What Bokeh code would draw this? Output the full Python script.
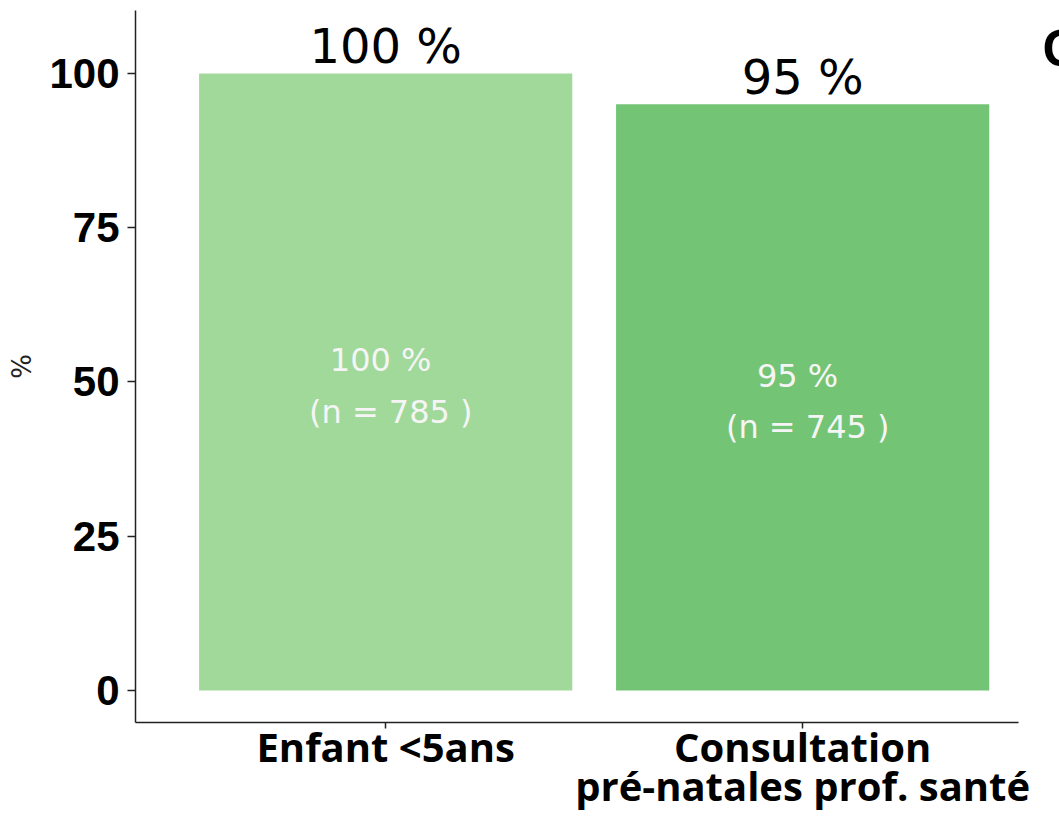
from bokeh.plotting import figure
from bokeh.models import Range1d, FixedTicker, ColumnDataSource
from bokeh.core.properties import value
from bokeh.embed import file_html
from bokeh.resources import INLINE

categories = ["Enfant <5ans", "Consultation\npré-natales prof. santé"]
percent = [100, 95]
counts = [785, 745]
colors = ["#A1D99B", "#74C476"]
yticks = [0, 25, 50, 75, 100]
panel_letter = ["C"]

NBSP = "\u00a0"
xpos = [i + 1 for i in range(len(categories))]
src = ColumnDataSource(dict(
    x=xpos,
    top=percent,
    mid=[v / 2 for v in percent],
    color=colors,
    top_label=[f"{v} %" for v in percent],
    inner_label=[f"{v} %{NBSP}\n{NBSP}(n = {n} )" for v, n in zip(percent, counts)],
))

X_START, X_AXIS_END, X_END = 0.400, 2.518, 2.616

p = figure(width=1059, height=817, output_backend="svg", toolbar_location=None,
           x_range=Range1d(X_START, X_END), y_range=Range1d(-5.2, 110.2),
           min_border_left=135, min_border_right=0, min_border_top=10, min_border_bottom=95)
p.outline_line_color = None
p.grid.visible = False
p.background_fill_color = "white"
p.border_fill_color = "white"

p.vbar(x="x", top="top", bottom=0, width=0.895, color="color", line_color=None, source=src)

p.text(x="x", y="top", text="top_label", source=src, text_align="center",
       text_baseline="alphabetic", y_offset=-27, text_color="black",
       text_font=value("DejaVu Sans"), text_font_size="48px")

p.text(x="x", y="mid", text="inner_label", source=src, text_align="center",
       text_baseline="middle", y_offset=4, text_color="#f5f5f5",
       text_font=value("DejaVu Sans"), text_font_size="32px", text_line_height=1.36)

# partially visible letter of the neighbouring panel (cut at the right edge)
p.text(x=[2.5755], y=[101.3], text=panel_letter, text_align="left",
       text_baseline="alphabetic", y_offset=-17, text_color="black",
       text_font=value("Liberation Sans"), text_font_style="bold", text_font_size="52px")

# y axis
ya = p.yaxis[0]
ya.ticker = FixedTicker(ticks=yticks)
ya.axis_label = "%"
ya.axis_label_text_font = "DejaVu Sans"
ya.axis_label_text_font_size = "26px"
ya.axis_label_text_font_style = "normal"
ya.axis_label_text_color = "#222222"
ya.axis_label_standoff = 9
ya.major_label_text_font = "Liberation Sans"
ya.major_label_text_font_style = "bold"
ya.major_label_text_font_size = "42px"
ya.major_label_text_color = "black"
ya.major_label_standoff = 8
ya.major_tick_out = 8
ya.major_tick_in = 0
ya.minor_tick_out = 0
ya.minor_tick_in = 0
ya.axis_line_color = "#222222"
ya.axis_line_width = 1.5
ya.major_tick_line_color = "#222222"
ya.major_tick_line_width = 1.5

# x axis
xa = p.xaxis[0]
xa.bounds = (X_START, X_AXIS_END)
xa.ticker = FixedTicker(ticks=xpos)
xa.major_label_overrides = {x: c for x, c in zip(xpos, categories)}
xa.major_label_text_font = "Open Sans"
xa.major_label_text_font_style = "bold"
xa.major_label_text_font_size = "40px"
xa.major_label_text_color = "black"
xa.major_label_text_line_height = 0.72
xa.major_label_standoff = -10
xa.major_tick_out = 6
xa.major_tick_in = 0
xa.minor_tick_out = 0
xa.minor_tick_in = 0
xa.axis_line_color = "#222222"
xa.axis_line_width = 1.5
xa.major_tick_line_color = "#222222"
xa.major_tick_line_width = 1.5

open("out.html", "w").write(file_html(p, INLINE))
